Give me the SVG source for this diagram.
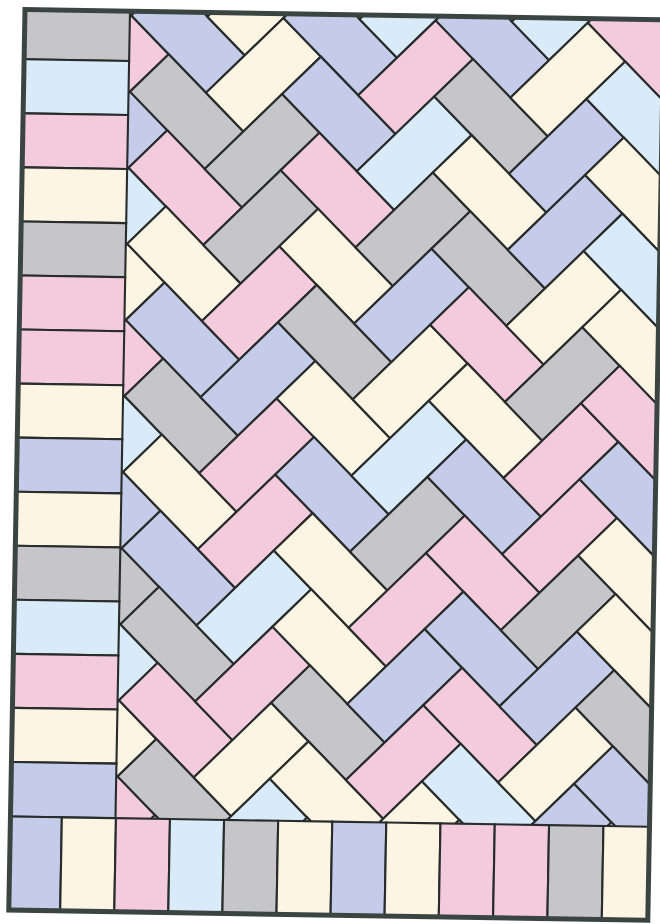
<svg xmlns="http://www.w3.org/2000/svg" width="660" height="924" viewBox="0 0 660 924">
<style>
.g{fill:#c6c5ca}.b{fill:#c5cce9}.l{fill:#d9eaf9}.p{fill:#f3cbdc}.c{fill:#fdf5e4}
#herringbone rect{stroke:#282c2b;stroke-width:.04}
#left-column rect,#bottom-row rect{stroke:#282c2b;stroke-width:2.1}
</style>
<defs>
<clipPath id="hbclip"><rect x="105" y="0" width="534" height="807"/></clipPath>
</defs>
<rect width="660" height="924" fill="#ffffff"/>
<g id="quilt" transform="matrix(1,0.016,-0.018,1,25,9.5)">
<g id="herringbone" clip-path="url(#hbclip)">
<g transform="translate(106.4,80.4) rotate(45) scale(53.8)">
<rect class="p" x="-2" y="-2" width="1" height="2"/>
<rect class="p" x="-1" y="-1" width="1" height="2"/>
<rect class="b" x="0" y="0" width="1" height="2"/>
<rect class="l" x="1" y="1" width="1" height="2"/>
<rect class="c" x="2" y="2" width="1" height="2"/>
<rect class="p" x="3" y="3" width="1" height="2"/>
<rect class="l" x="4" y="4" width="1" height="2"/>
<rect class="b" x="5" y="5" width="1" height="2"/>
<rect class="g" x="6" y="6" width="1" height="2"/>
<rect class="l" x="7" y="7" width="1" height="2"/>
<rect class="c" x="8" y="8" width="1" height="2"/>
<rect class="p" x="9" y="9" width="1" height="2"/>
<rect class="c" x="-2" y="-3" width="2" height="1"/>
<rect class="b" x="-1" y="-2" width="2" height="1"/>
<rect class="g" x="0" y="-1" width="2" height="1"/>
<rect class="p" x="1" y="0" width="2" height="1"/>
<rect class="c" x="2" y="1" width="2" height="1"/>
<rect class="b" x="3" y="2" width="2" height="1"/>
<rect class="g" x="4" y="3" width="2" height="1"/>
<rect class="c" x="5" y="4" width="2" height="1"/>
<rect class="b" x="6" y="5" width="2" height="1"/>
<rect class="g" x="7" y="6" width="2" height="1"/>
<rect class="p" x="8" y="7" width="2" height="1"/>
<rect class="g" x="9" y="8" width="2" height="1"/>
<rect class="g" x="10" y="9" width="2" height="1"/>
<rect class="c" x="0" y="-4" width="1" height="2"/>
<rect class="c" x="1" y="-3" width="1" height="2"/>
<rect class="g" x="2" y="-2" width="1" height="2"/>
<rect class="g" x="3" y="-1" width="1" height="2"/>
<rect class="p" x="4" y="0" width="1" height="2"/>
<rect class="b" x="5" y="1" width="1" height="2"/>
<rect class="p" x="6" y="2" width="1" height="2"/>
<rect class="p" x="7" y="3" width="1" height="2"/>
<rect class="l" x="8" y="4" width="1" height="2"/>
<rect class="p" x="9" y="5" width="1" height="2"/>
<rect class="c" x="10" y="6" width="1" height="2"/>
<rect class="l" x="11" y="7" width="1" height="2"/>
<rect class="c" x="0" y="-5" width="2" height="1"/>
<rect class="b" x="1" y="-4" width="2" height="1"/>
<rect class="b" x="2" y="-3" width="2" height="1"/>
<rect class="p" x="3" y="-2" width="2" height="1"/>
<rect class="c" x="4" y="-1" width="2" height="1"/>
<rect class="g" x="5" y="0" width="2" height="1"/>
<rect class="c" x="6" y="1" width="2" height="1"/>
<rect class="b" x="7" y="2" width="2" height="1"/>
<rect class="c" x="8" y="3" width="2" height="1"/>
<rect class="c" x="9" y="4" width="2" height="1"/>
<rect class="g" x="10" y="5" width="2" height="1"/>
<rect class="c" x="11" y="6" width="2" height="1"/>
<rect class="c" x="12" y="7" width="2" height="1"/>
<rect class="l" x="2" y="-6" width="1" height="2"/>
<rect class="p" x="3" y="-5" width="1" height="2"/>
<rect class="l" x="4" y="-4" width="1" height="2"/>
<rect class="g" x="5" y="-3" width="1" height="2"/>
<rect class="b" x="6" y="-2" width="1" height="2"/>
<rect class="c" x="7" y="-1" width="1" height="2"/>
<rect class="l" x="8" y="0" width="1" height="2"/>
<rect class="g" x="9" y="1" width="1" height="2"/>
<rect class="p" x="10" y="2" width="1" height="2"/>
<rect class="b" x="11" y="3" width="1" height="2"/>
<rect class="p" x="12" y="4" width="1" height="2"/>
<rect class="c" x="13" y="5" width="1" height="2"/>
<rect class="l" x="2" y="-7" width="2" height="1"/>
<rect class="b" x="3" y="-6" width="2" height="1"/>
<rect class="g" x="4" y="-5" width="2" height="1"/>
<rect class="c" x="5" y="-4" width="2" height="1"/>
<rect class="g" x="6" y="-3" width="2" height="1"/>
<rect class="p" x="7" y="-2" width="2" height="1"/>
<rect class="c" x="8" y="-1" width="2" height="1"/>
<rect class="b" x="9" y="0" width="2" height="1"/>
<rect class="p" x="10" y="1" width="2" height="1"/>
<rect class="b" x="11" y="2" width="2" height="1"/>
<rect class="p" x="12" y="3" width="2" height="1"/>
<rect class="l" x="13" y="4" width="2" height="1"/>
<rect class="b" x="14" y="5" width="2" height="1"/>
<rect class="l" x="4" y="-8" width="1" height="2"/>
<rect class="c" x="5" y="-7" width="1" height="2"/>
<rect class="b" x="6" y="-6" width="1" height="2"/>
<rect class="b" x="7" y="-5" width="1" height="2"/>
<rect class="c" x="8" y="-4" width="1" height="2"/>
<rect class="g" x="9" y="-3" width="1" height="2"/>
<rect class="p" x="10" y="-2" width="1" height="2"/>
<rect class="p" x="11" y="-1" width="1" height="2"/>
<rect class="g" x="12" y="0" width="1" height="2"/>
<rect class="b" x="13" y="1" width="1" height="2"/>
<rect class="c" x="14" y="2" width="1" height="2"/>
<rect class="b" x="15" y="3" width="1" height="2"/>
<rect class="p" x="4" y="-9" width="2" height="1"/>
<rect class="p" x="5" y="-8" width="2" height="1"/>
<rect class="l" x="6" y="-7" width="2" height="1"/>
<rect class="c" x="7" y="-6" width="2" height="1"/>
<rect class="l" x="8" y="-5" width="2" height="1"/>
<rect class="c" x="9" y="-4" width="2" height="1"/>
<rect class="p" x="10" y="-3" width="2" height="1"/>
<rect class="b" x="11" y="-2" width="2" height="1"/>
<rect class="c" x="12" y="-1" width="2" height="1"/>
<rect class="c" x="13" y="0" width="2" height="1"/>
<rect class="g" x="14" y="1" width="2" height="1"/>
<rect class="b" x="15" y="2" width="2" height="1"/>
<rect class="b" x="16" y="3" width="2" height="1"/>
</g>
</g>
<g id="left-column">
<rect class="g" x="0" y="0" width="105" height="49.8"/>
<rect class="l" x="0" y="49.8" width="105" height="54.05"/>
<rect class="p" x="0" y="103.85" width="105" height="54.05"/>
<rect class="c" x="0" y="157.9" width="105" height="54.05"/>
<rect class="g" x="0" y="211.95" width="105" height="54.05"/>
<rect class="p" x="0" y="266" width="105" height="54.05"/>
<rect class="p" x="0" y="320.05" width="105" height="54.05"/>
<rect class="c" x="0" y="374.1" width="105" height="54.05"/>
<rect class="b" x="0" y="428.15" width="105" height="54.05"/>
<rect class="c" x="0" y="482.2" width="105" height="54.05"/>
<rect class="g" x="0" y="536.25" width="105" height="54.05"/>
<rect class="l" x="0" y="590.3" width="105" height="54.05"/>
<rect class="p" x="0" y="644.35" width="105" height="54.05"/>
<rect class="c" x="0" y="698.4" width="105" height="54.05"/>
<rect class="b" x="0" y="752.45" width="105" height="54.55"/>
</g>
<g id="bottom-row">
<rect class="b" x="0" y="807" width="51.4" height="93.5"/>
<rect class="c" x="51.4" y="807" width="54.1" height="93.5"/>
<rect class="p" x="105.5" y="807" width="54" height="93.5"/>
<rect class="l" x="159.5" y="807" width="54.1" height="93.5"/>
<rect class="g" x="213.6" y="807" width="54.1" height="93.5"/>
<rect class="c" x="267.7" y="807" width="54.1" height="93.5"/>
<rect class="b" x="321.8" y="807" width="54" height="93.5"/>
<rect class="c" x="375.8" y="807" width="54.2" height="93.5"/>
<rect class="p" x="430" y="807" width="54.3" height="93.5"/>
<rect class="p" x="484.3" y="807" width="54.3" height="93.5"/>
<rect class="g" x="538.6" y="807" width="54.4" height="93.5"/>
<rect class="c" x="593" y="807" width="46" height="93.5"/>
</g>
<rect id="border" x="0" y="0" width="639" height="900.5" fill="none" stroke="#3a4440" stroke-width="5"/>
</g>
</svg>
